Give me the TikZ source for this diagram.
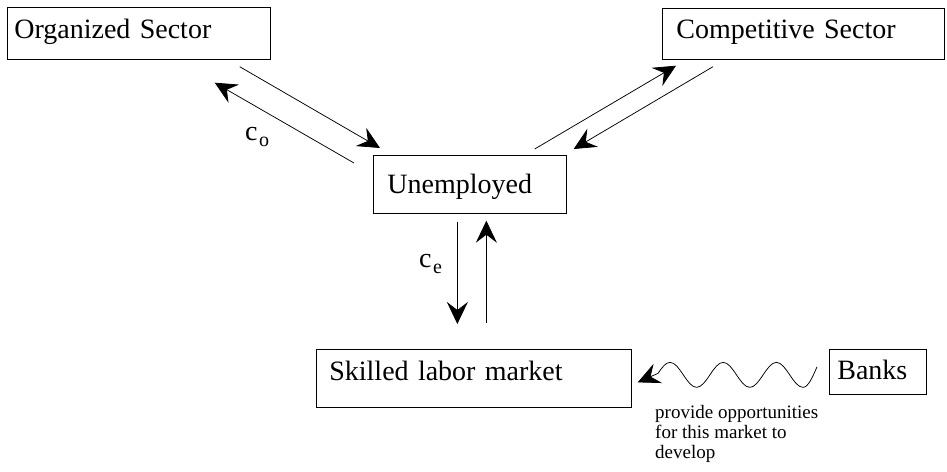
\documentclass[tikz,border=0pt]{standalone}
\usepackage{fontspec}
\setmainfont{Liberation Serif}
\usetikzlibrary{arrows.meta}
\begin{document}
\begin{tikzpicture}[x=1pt,y=-1pt,
  box/.style={draw, line width=0.7pt, anchor=north west, inner ysep=0pt,
    align=left, font=\fontsize{28}{30}\selectfont, text height=19pt, text depth=6pt},
  arr/.style={line width=0.75pt, -{Stealth[length=22pt,width=21pt,inset=8pt]}},
  lbl/.style={anchor=base west, inner sep=0pt, font=\fontsize{28}{30}\selectfont},
  note/.style={anchor=north west, inner sep=0pt, align=left, font=\fontsize{19}{20}\selectfont}
]
\useasboundingbox (0,0) rectangle (947,471);

\node[box, minimum width=263pt, minimum height=52pt, inner xsep=7pt, text width=249pt, text depth=9pt] (org) at (7,7) {Organized Sector};
\node[box, minimum width=282pt, minimum height=51pt, inner xsep=14pt, text width=254pt, text depth=9pt] (comp) at (662,8) {Competitive Sector};
\node[box, minimum width=193pt, minimum height=58pt, inner xsep=14pt, text width=165pt, text depth=1pt] (unemp) at (373,155) {Unemployed};
\node[box, minimum width=315pt, minimum height=58pt, inner xsep=13pt, text width=289pt, text depth=15pt] (skilled) at (316,349) {Skilled labor market};
\node[box, minimum width=97pt, minimum height=45pt, inner xsep=8pt, text width=81pt, text depth=4pt] (banks) at (829,349) {Banks};

% Organized <-> Unemployed
\draw[arr] ([shift={(-31,7)}]org.south east) -- ([shift={(7,-7)}]unemp.north west);
\draw[arr] ([shift={(-19,8)}]unemp.north west) -- ([shift={(-56,23)}]org.south east);
% Unemployed <-> Competitive
\draw[arr] ([shift={(-32,-6)}]unemp.north east) -- ([shift={(14,6)}]comp.south west);
\draw[arr] ([shift={(51,7)}]comp.south west) -- ([shift={(7,-6)}]unemp.north east);
% Unemployed <-> Skilled
\draw[arr] ([shift={(-12.5,8)}]unemp.south) -- ([shift={(-16.5,-25)}]skilled.north);
\draw[arr] ([shift={(12.5,-26)}]skilled.north) -- ([shift={(16.5,7)}]unemp.south);

% wavy arrow from Banks to Skilled labor market
\coordinate (wstart) at ([shift={(-12,-5)}]banks.west);
\coordinate (wend) at ([shift={(6,4)}]skilled.east);
\draw[arr] (wstart) sin ++(-14,20.5)
  cos ++(-13.3,-12.5) sin ++(-13.3,-12.5)
  cos ++(-13.3,12.5) sin ++(-13.3,12.5)
  cos ++(-13.3,-12.5) sin ++(-13.3,-12.5)
  cos ++(-13.3,12.5) sin ++(-13.3,12.5)
  cos ++(-13.3,-12.5) sin ++(-13.3,-12.5)
  cos ++(-12,11) -- (wend);

% labels
\node[lbl] (co) at (245,140) {c\kern1.5pt\raisebox{-6pt}{\fontsize{20}{20}\selectfont o}};
\node[lbl] (ce) at (419,267) {c\kern1.5pt\raisebox{-6pt}{\fontsize{20}{20}\selectfont e}};
\node[note] (provide) at (655,405) {provide opportunities\\for this market to\\develop};
\end{tikzpicture}
\end{document}
